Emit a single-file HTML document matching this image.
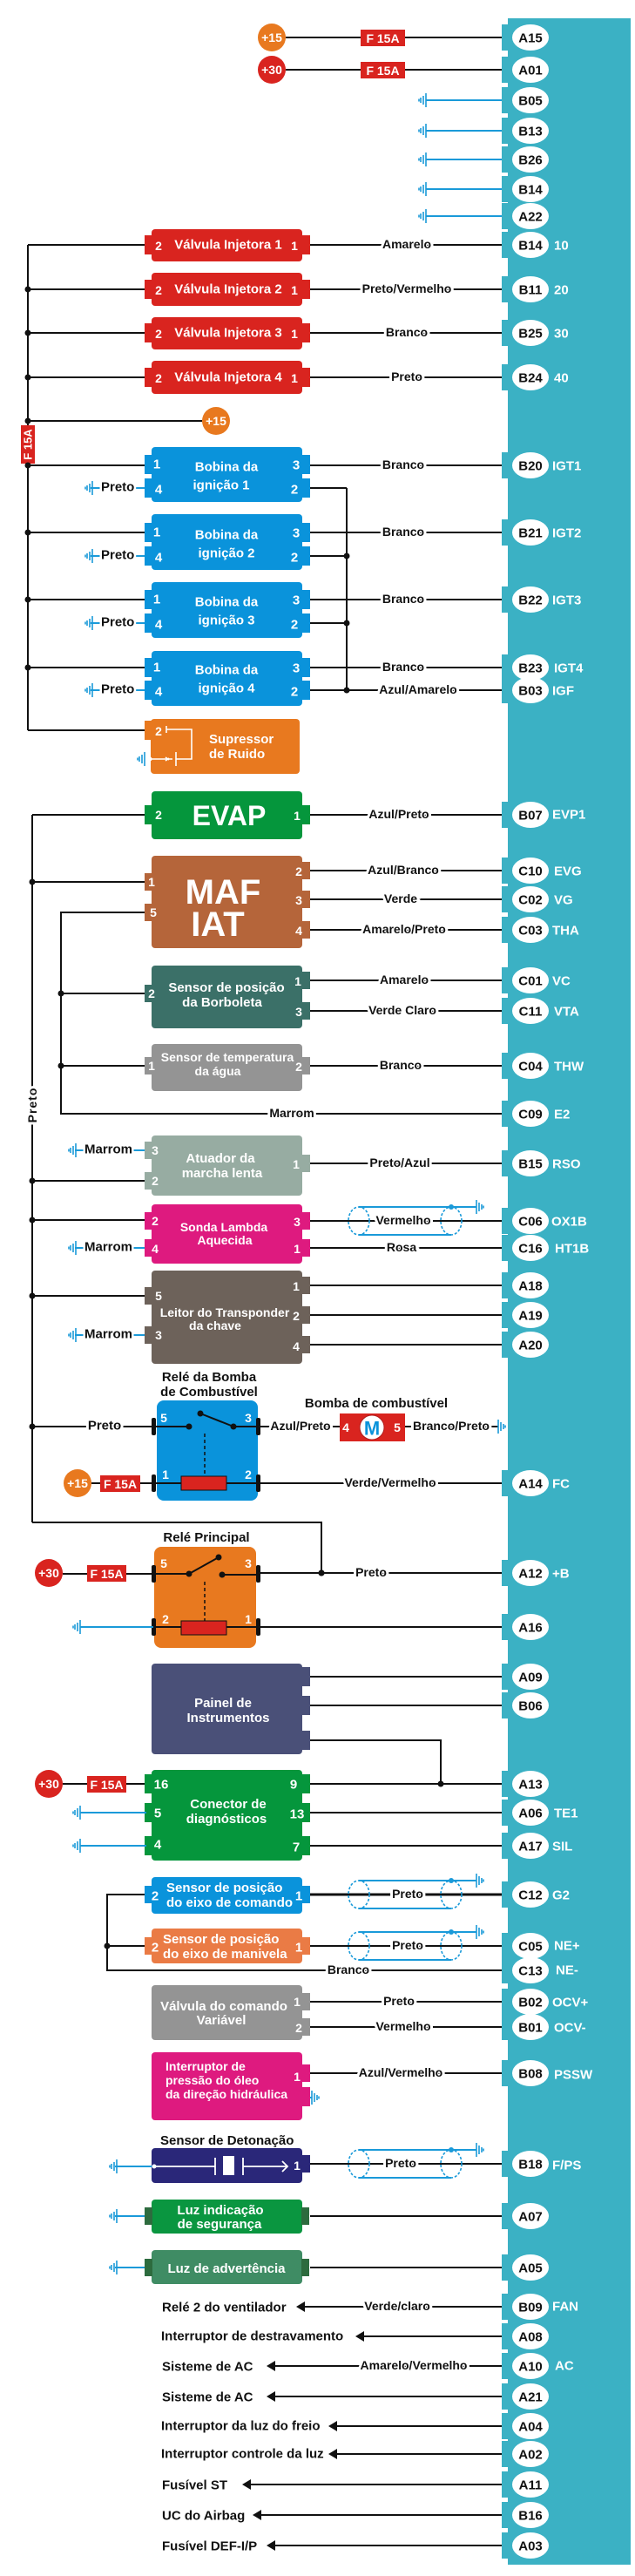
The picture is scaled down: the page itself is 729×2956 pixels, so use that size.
<!DOCTYPE html>
<html><head><meta charset="utf-8"><style>
html,body{margin:0;padding:0;background:#fff}
svg{display:block}
text{font-family:"Liberation Sans Narrow","Liberation Sans",sans-serif;font-weight:bold;font-stretch:condensed}
.w{fill:#fff}
.k{fill:#111}
.wl{fill:#111;font-size:14px;stroke:#fff;stroke-width:6px;paint-order:stroke;text-anchor:middle;dominant-baseline:central}
.pc{font-size:15px;fill:#111;text-anchor:middle;dominant-baseline:central}
.pl{font-size:15px;fill:#fff;dominant-baseline:central}
.bt{font-size:14px;fill:#fff;text-anchor:middle}
.pn{font-size:14px;fill:#fff;text-anchor:middle;dominant-baseline:central}
.ln{stroke:#111;stroke-width:2;fill:none}
.bl{stroke:#1a9ad9;stroke-width:2;fill:none}
.gl{font-size:14px;fill:#111;dominant-baseline:central}
</style></head><body>
<svg width="729" height="2956" viewBox="0 0 729 2956" xmlns="http://www.w3.org/2000/svg">
<defs>
<g id="gl"><path d="M0,-8V8M-3,-5V5M-6,-3V3M-8,-1.5V1.5" stroke="#1a9ad9" stroke-width="1.6" fill="none"/></g>
<g id="gr"><path d="M0,-8V8M3,-5V5M6,-3V3M8,-1.5V1.5" stroke="#1a9ad9" stroke-width="1.6" fill="none"/></g>
<g id="pin"><rect x="-33" y="-15" width="10" height="30" fill="#3bb1c4"/><ellipse cx="0" cy="0" rx="21" ry="15" fill="#fff"/></g>
<g id="shield">
<path d="M0,-16H135M0,16H106" stroke="#1a9ad9" stroke-width="2" fill="none"/>
<ellipse cx="0" cy="0" rx="12" ry="16" fill="none" stroke="#1a9ad9" stroke-width="1.6" stroke-dasharray="3,2"/>
<ellipse cx="106" cy="0" rx="12" ry="16" fill="none" stroke="#1a9ad9" stroke-width="1.6" stroke-dasharray="3,2"/>
<circle cx="106" cy="-16" r="3" fill="#1a9ad9"/>
<use href="#gr" x="135" y="-16"/>
</g>
<g id="arr"><path d="M0,0L10,-6V6Z" fill="#111"/></g>
</defs>

<rect x="583" y="21" width="141" height="2922" fill="#3bb1c4"/>

<!-- Top supply -->
<line x1="328" y1="43" x2="576" y2="43" class="ln"/>
<circle cx="312" cy="43" r="16" fill="#e8791f"/><text x="312" y="43" class="pn">+15</text>
<rect x="414" y="34" width="51" height="19" fill="#d9241f"/><text x="439.5" y="44" class="pn">F 15A</text>
<line x1="328" y1="80" x2="576" y2="80" class="ln"/>
<circle cx="312" cy="80" r="16" fill="#d9241f"/><text x="312" y="80" class="pn">+30</text>
<rect x="414" y="71" width="51" height="19" fill="#d9241f"/><text x="439.5" y="81" class="pn">F 15A</text>
<g class="bl">
<line x1="489" y1="115" x2="576" y2="115"/><line x1="489" y1="150" x2="576" y2="150"/><line x1="489" y1="183" x2="576" y2="183"/><line x1="489" y1="217" x2="576" y2="217"/><line x1="489" y1="248" x2="576" y2="248"/>
</g>
<use href="#gl" x="489" y="115"/><use href="#gl" x="489" y="150"/><use href="#gl" x="489" y="183"/><use href="#gl" x="489" y="217"/><use href="#gl" x="489" y="248"/>

<!-- Left power bus -->
<line x1="32" y1="281" x2="32" y2="838" class="ln"/>
<line x1="32" y1="838" x2="166" y2="838" class="ln"/>
<rect x="24" y="488" width="16" height="44" fill="#d9241f"/>
<text transform="translate(32,510) rotate(-90)" class="pn" style="font-size:13px">F 15A</text>
<line x1="32" y1="483" x2="232" y2="483" class="ln"/>
<circle cx="248" cy="483" r="16" fill="#e8791f"/><text x="248" y="483" class="pn">+15</text>
<g fill="#111"><circle cx="32" cy="332" r="3.5"/><circle cx="32" cy="382" r="3.5"/><circle cx="32" cy="433" r="3.5"/><circle cx="32" cy="483" r="3.5"/><circle cx="32" cy="534" r="3.5"/><circle cx="32" cy="611" r="3.5"/><circle cx="32" cy="688" r="3.5"/><circle cx="32" cy="766" r="3.5"/></g>

<!-- Injectors -->
<g>
<line x1="32" y1="281" x2="166" y2="281" class="ln"/><line x1="32" y1="332" x2="166" y2="332" class="ln"/><line x1="32" y1="382" x2="166" y2="382" class="ln"/><line x1="32" y1="433" x2="166" y2="433" class="ln"/>
<line x1="356" y1="281" x2="576" y2="281" class="ln"/><line x1="356" y1="332" x2="576" y2="332" class="ln"/><line x1="356" y1="382" x2="576" y2="382" class="ln"/><line x1="356" y1="433" x2="576" y2="433" class="ln"/>
</g>
<g fill="#d9241f">
<rect x="174" y="263" width="173" height="37" rx="4"/><rect x="166" y="270" width="10" height="22"/><rect x="346" y="270" width="10" height="22"/>
<rect x="174" y="313" width="173" height="38" rx="4"/><rect x="166" y="321" width="10" height="22"/><rect x="346" y="321" width="10" height="22"/>
<rect x="174" y="364" width="173" height="37" rx="4"/><rect x="166" y="371" width="10" height="22"/><rect x="346" y="371" width="10" height="22"/>
<rect x="174" y="414" width="173" height="38" rx="4"/><rect x="166" y="422" width="10" height="22"/><rect x="346" y="422" width="10" height="22"/>
</g>
<g class="pn"><text x="182" y="282">2</text><text x="338" y="282">1</text><text x="182" y="333">2</text><text x="338" y="333">1</text><text x="182" y="383">2</text><text x="338" y="383">1</text><text x="182" y="434">2</text><text x="338" y="434">1</text></g>
<g class="pn" style="font-size:15px"><text x="262" y="281">Válvula Injetora 1</text><text x="262" y="332">Válvula Injetora 2</text><text x="262" y="382">Válvula Injetora 3</text><text x="262" y="433">Válvula Injetora 4</text></g>
<text x="467" y="280" class="wl">Amarelo</text><text x="467" y="331" class="wl">Preto/Vermelho</text><text x="467" y="381" class="wl">Branco</text><text x="467" y="432" class="wl">Preto</text>

<!-- Ignition coils -->
<line x1="398" y1="560" x2="398" y2="792" class="ln"/>
<g class="ln">
<line x1="32" y1="534" x2="166" y2="534"/><line x1="32" y1="611" x2="166" y2="611"/><line x1="32" y1="688" x2="166" y2="688"/><line x1="32" y1="766" x2="166" y2="766"/>
<line x1="356" y1="534" x2="576" y2="534"/><line x1="356" y1="611" x2="576" y2="611"/><line x1="356" y1="688" x2="576" y2="688"/><line x1="356" y1="766" x2="576" y2="766"/>
<polyline points="356,560 398,560"/><line x1="356" y1="638" x2="398" y2="638"/><line x1="356" y1="715" x2="398" y2="715"/><line x1="356" y1="792" x2="576" y2="792"/>
</g>
<g fill="#111"><circle cx="398" cy="638" r="3.5"/><circle cx="398" cy="715" r="3.5"/><circle cx="398" cy="792" r="3.5"/></g>
<g fill="#0a93db">
<rect x="174" y="513" width="173" height="63" rx="4"/><rect x="166" y="522" width="10" height="22"/><rect x="166" y="549" width="10" height="22"/><rect x="346" y="522" width="10" height="22"/><rect x="346" y="549" width="10" height="22"/>
<rect x="174" y="590" width="173" height="64" rx="4"/><rect x="166" y="600" width="10" height="22"/><rect x="166" y="627" width="10" height="22"/><rect x="346" y="600" width="10" height="22"/><rect x="346" y="627" width="10" height="22"/>
<rect x="174" y="668" width="173" height="64" rx="4"/><rect x="166" y="677" width="10" height="22"/><rect x="166" y="704" width="10" height="22"/><rect x="346" y="677" width="10" height="22"/><rect x="346" y="704" width="10" height="22"/>
<rect x="174" y="747" width="173" height="63" rx="4"/><rect x="166" y="755" width="10" height="22"/><rect x="166" y="781" width="10" height="22"/><rect x="346" y="755" width="10" height="22"/><rect x="346" y="781" width="10" height="22"/>
</g>
<g class="pn" style="font-size:15px">
<text x="180" y="533">1</text><text x="182" y="562">4</text><text x="340" y="534">3</text><text x="338" y="562">2</text>
<text x="180" y="611">1</text><text x="182" y="640">4</text><text x="340" y="612">3</text><text x="338" y="640">2</text>
<text x="180" y="688">1</text><text x="182" y="717">4</text><text x="340" y="689">3</text><text x="338" y="717">2</text>
<text x="180" y="766">1</text><text x="182" y="794">4</text><text x="340" y="767">3</text><text x="338" y="794">2</text>
<text x="260" y="536">Bobina da</text><text x="254" y="557">ignição 1</text>
<text x="260" y="614">Bobina da</text><text x="260" y="635">ignição 2</text>
<text x="260" y="691">Bobina da</text><text x="260" y="712">ignição 3</text>
<text x="260" y="769">Bobina da</text><text x="260" y="790">ignição 4</text>
</g>
<g class="bl"><line x1="104" y1="560" x2="166" y2="560"/><line x1="104" y1="638" x2="166" y2="638"/><line x1="104" y1="715" x2="166" y2="715"/><line x1="104" y1="792" x2="166" y2="792"/></g>
<use href="#gl" x="106" y="560"/><use href="#gl" x="106" y="638"/><use href="#gl" x="106" y="715"/><use href="#gl" x="106" y="792"/>
<g style="font-size:15px;fill:#111;stroke:#fff;stroke-width:5px;paint-order:stroke;dominant-baseline:central"><text x="116" y="559">Preto</text><text x="116" y="637">Preto</text><text x="116" y="714">Preto</text><text x="116" y="791">Preto</text></g>
<text x="463" y="533" class="wl">Branco</text><text x="463" y="610" class="wl">Branco</text><text x="463" y="687" class="wl">Branco</text><text x="463" y="765" class="wl">Branco</text><text x="480" y="791" class="wl">Azul/Amarelo</text>

<!-- Supressor -->
<rect x="173" y="825" width="171" height="63" rx="4" fill="#e8791f"/><rect x="166" y="827" width="10" height="22" fill="#e8791f"/>
<text x="182" y="839" class="pn">2</text>
<path d="M191,837H220V871H202M202,863V879M170,871H198" stroke="#fff" stroke-width="1.6" fill="none"/>
<path d="M191,833V841M194,872l-4,-3M194,870l-4,3" stroke="#fff" stroke-width="1.6" fill="none"/>
<circle cx="172" cy="871" r="2.5" fill="#fff"/><use href="#gl" x="166" y="871"/>
<text x="240" y="853" style="font-size:15px;fill:#fff">Supressor</text><text x="240" y="870" style="font-size:15px;fill:#fff">de Ruido</text>

<!-- Preto bus -->
<line x1="37" y1="935" x2="37" y2="1747" class="ln"/>
<polyline points="37,1747 369,1747 369,1805" class="ln"/>
<text transform="translate(37,1268) rotate(-90)" style="font-size:14px;fill:#111;stroke:#fff;stroke-width:6px;paint-order:stroke;text-anchor:middle;dominant-baseline:central;letter-spacing:1px">Preto</text>
<g fill="#111"><circle cx="37" cy="1012" r="3.5"/><circle cx="37" cy="1355" r="3.5"/><circle cx="37" cy="1400" r="3.5"/><circle cx="37" cy="1487" r="3.5"/><circle cx="37" cy="1637" r="3.5"/><circle cx="369" cy="1805" r="3.5"/></g>

<!-- EVAP -->
<line x1="37" y1="935" x2="166" y2="935" class="ln"/><line x1="356" y1="935" x2="576" y2="935" class="ln"/>
<rect x="174" y="908" width="173" height="55" rx="4" fill="#05963c"/><rect x="166" y="924" width="10" height="22" fill="#05963c"/><rect x="346" y="924" width="10" height="22" fill="#05963c"/>
<text x="182" y="935" class="pn">2</text><text x="341" y="936" class="pn">1</text>
<text x="263" y="947" style="font-size:32px;fill:#fff;text-anchor:middle">EVAP</text>
<text x="458" y="934" class="wl">Azul/Preto</text>

<!-- MAF -->
<polyline points="166,1047 70,1047 70,1278 576,1278" class="ln"/>
<line x1="37" y1="1012" x2="166" y2="1012" class="ln"/>
<line x1="356" y1="999" x2="576" y2="999" class="ln"/><line x1="356" y1="1032" x2="576" y2="1032" class="ln"/><line x1="356" y1="1067" x2="576" y2="1067" class="ln"/>
<g fill="#b5653a"><rect x="174" y="982" width="173" height="106" rx="4"/><rect x="166" y="1002" width="10" height="20"/><rect x="166" y="1037" width="10" height="20"/><rect x="346" y="989" width="10" height="20"/><rect x="346" y="1022" width="10" height="20"/><rect x="346" y="1057" width="10" height="20"/></g>
<g class="pn"><text x="174" y="1012">1</text><text x="176" y="1047">5</text><text x="343" y="1000">2</text><text x="343" y="1033">3</text><text x="343" y="1068">4</text></g>
<text x="256" y="1037" style="font-size:40px;fill:#fff;text-anchor:middle">MAF</text>
<text x="250" y="1074" style="font-size:40px;fill:#fff;text-anchor:middle">IAT</text>
<text x="463" y="998" class="wl">Azul/Branco</text><text x="460" y="1031" class="wl">Verde</text><text x="464" y="1066" class="wl">Amarelo/Preto</text>
<g fill="#111"><circle cx="70" cy="1140" r="3.5"/><circle cx="70" cy="1223" r="3.5"/></g>
<text x="335" y="1277" class="wl">Marrom</text>

<!-- TPS -->
<line x1="70" y1="1140" x2="166" y2="1140" class="ln"/>
<line x1="356" y1="1125" x2="576" y2="1125" class="ln"/><line x1="356" y1="1160" x2="576" y2="1160" class="ln"/>
<g fill="#3b7068"><rect x="174" y="1108" width="173" height="72" rx="4"/><rect x="166" y="1130" width="10" height="20"/><rect x="346" y="1115" width="10" height="20"/><rect x="346" y="1150" width="10" height="20"/></g>
<g class="pn"><text x="174" y="1140">2</text><text x="342" y="1126">1</text><text x="343" y="1161">3</text></g>
<text x="260" y="1138" class="bt" style="font-size:15px">Sensor de posição</text><text x="255" y="1155" class="bt" style="font-size:15px">da Borboleta</text>
<text x="464" y="1124" class="wl">Amarelo</text><text x="462" y="1159" class="wl">Verde Claro</text>

<!-- Water temp -->
<line x1="70" y1="1223" x2="166" y2="1223" class="ln"/><line x1="356" y1="1223" x2="576" y2="1223" class="ln"/>
<g fill="#949494"><rect x="174" y="1198" width="173" height="54" rx="4"/><rect x="166" y="1213" width="10" height="20"/><rect x="346" y="1213" width="10" height="20"/></g>
<g class="pn"><text x="174" y="1223">1</text><text x="343" y="1224">2</text></g>
<text x="261" y="1218" class="bt">Sensor de temperatura</text><text x="250" y="1234" class="bt">da água</text>
<text x="460" y="1222" class="wl">Branco</text>

<!-- Idle -->
<line x1="37" y1="1355" x2="166" y2="1355" class="ln"/><line x1="356" y1="1335" x2="576" y2="1335" class="ln"/>
<g fill="#97aca2"><rect x="174" y="1303" width="173" height="69" rx="4"/><rect x="166" y="1310" width="10" height="20"/><rect x="166" y="1345" width="10" height="20"/><rect x="346" y="1325" width="10" height="20"/></g>
<g class="pn"><text x="178" y="1320">3</text><text x="178" y="1355">2</text><text x="340" y="1336">1</text></g>
<text x="253" y="1334" class="bt" style="font-size:15px">Atuador da</text><text x="255" y="1351" class="bt" style="font-size:15px">marcha lenta</text>
<text x="459" y="1334" class="wl">Preto/Azul</text>
<line x1="86" y1="1320" x2="166" y2="1320" class="bl"/><use href="#gl" x="87" y="1320"/>
<text x="97" y="1319" class="gl" style="font-size:15px;stroke:#fff;stroke-width:5px;paint-order:stroke">Marrom</text>

<!-- Lambda -->
<line x1="37" y1="1400" x2="166" y2="1400" class="ln"/>
<line x1="356" y1="1401" x2="576" y2="1401" class="ln"/><line x1="356" y1="1432" x2="576" y2="1432" class="ln"/>
<use href="#shield" x="412" y="1401"/>
<g fill="#de1a7f"><rect x="174" y="1382" width="173" height="68" rx="4"/><rect x="166" y="1391" width="10" height="20"/><rect x="166" y="1422" width="10" height="20"/><rect x="346" y="1391" width="10" height="20"/><rect x="346" y="1422" width="10" height="20"/></g>
<g class="pn"><text x="178" y="1401">2</text><text x="178" y="1433">4</text><text x="341" y="1402">3</text><text x="341" y="1433">1</text></g>
<text x="257" y="1413" class="bt">Sonda Lambda</text><text x="258" y="1428" class="bt">Aquecida</text>
<text x="463" y="1400" class="wl">Vermelho</text><text x="461" y="1431" class="wl">Rosa</text>
<line x1="86" y1="1432" x2="166" y2="1432" class="bl"/><use href="#gl" x="87" y="1432"/>
<text x="97" y="1431" class="gl" style="font-size:15px;stroke:#fff;stroke-width:5px;paint-order:stroke">Marrom</text>

<!-- Transponder -->
<line x1="37" y1="1487" x2="166" y2="1487" class="ln"/>
<line x1="356" y1="1475" x2="576" y2="1475" class="ln"/><line x1="356" y1="1509" x2="576" y2="1509" class="ln"/><line x1="356" y1="1543" x2="576" y2="1543" class="ln"/>
<g fill="#6d625a"><rect x="174" y="1458" width="173" height="107" rx="4"/><rect x="166" y="1477" width="10" height="20"/><rect x="166" y="1522" width="10" height="20"/><rect x="346" y="1465" width="10" height="20"/><rect x="346" y="1499" width="10" height="20"/><rect x="346" y="1533" width="10" height="20"/></g>
<g class="pn"><text x="182" y="1487">5</text><text x="182" y="1532">3</text><text x="340" y="1476">1</text><text x="340" y="1510">2</text><text x="340" y="1545">4</text></g>
<text x="258" y="1511" class="bt">Leitor do Transponder</text><text x="247" y="1526" class="bt">da chave</text>
<line x1="86" y1="1532" x2="166" y2="1532" class="bl"/><use href="#gl" x="87" y="1532"/>
<text x="97" y="1531" class="gl" style="font-size:15px;stroke:#fff;stroke-width:5px;paint-order:stroke">Marrom</text>

<!-- Pump relay -->
<text x="240" y="1585" style="font-size:15px;fill:#111;text-anchor:middle">Relé da Bomba</text>
<text x="240" y="1602" style="font-size:15px;fill:#111;text-anchor:middle">de Combustível</text>
<line x1="37" y1="1637" x2="176" y2="1637" class="ln"/>
<text x="120" y="1636" class="wl" style="font-size:15px">Preto</text>
<rect x="180" y="1607" width="116" height="115" rx="8" fill="#0a93db"/>
<g class="pn"><text x="188" y="1627">5</text><text x="285" y="1627">3</text><text x="190" y="1692">1</text><text x="285" y="1692">2</text></g>
<path d="M176,1637H217M230,1622L268,1637M268,1637H296M176,1702H296" class="ln"/>
<g fill="#111"><circle cx="217" cy="1637" r="3.5"/><circle cx="230" cy="1622" r="3.5"/><circle cx="268" cy="1637" r="3.5"/></g>
<line x1="235" y1="1645" x2="235" y2="1692" stroke="#111" stroke-width="1.5" stroke-dasharray="4,3"/>
<rect x="208" y="1694" width="52" height="16" fill="#d9241f" stroke="#111" stroke-width="1"/>
<g fill="#111"><rect x="174" y="1627" width="5" height="20" rx="2"/><rect x="294" y="1627" width="5" height="20" rx="2"/><rect x="174" y="1692" width="5" height="20" rx="2"/><rect x="294" y="1692" width="5" height="20" rx="2"/></g>
<line x1="105" y1="1702" x2="176" y2="1702" class="ln"/>
<circle cx="89" cy="1702" r="16" fill="#e8791f"/><text x="89" y="1702" class="pn">+15</text>
<rect x="115" y="1693" width="46" height="19" fill="#d9241f"/><text x="138" y="1703" class="pn">F 15A</text>
<line x1="296" y1="1637" x2="390" y2="1637" class="ln"/><line x1="465" y1="1637" x2="572" y2="1637" class="ln"/>
<text x="345" y="1636" class="wl">Azul/Preto</text>
<text x="432" y="1615" style="font-size:15px;fill:#111;text-anchor:middle">Bomba de combustível</text>
<rect x="390" y="1622" width="75" height="32" fill="#d9241f"/>
<circle cx="427" cy="1638" r="14" fill="#fff" stroke="#b01c1c" stroke-width="1"/>
<text x="427" y="1639" style="font-size:22px;fill:#0a93db;text-anchor:middle;dominant-baseline:central">M</text>
<text x="397" y="1638" class="pn">4</text><text x="456" y="1638" class="pn">5</text>
<text x="518" y="1636" class="wl">Branco/Preto</text>
<use href="#gr" x="572" y="1637"/>
<line x1="296" y1="1702" x2="576" y2="1702" class="ln"/>
<text x="448" y="1701" class="wl">Verde/Vermelho</text>

<!-- Main relay -->
<text x="237" y="1769" style="font-size:15px;fill:#111;text-anchor:middle">Relé Principal</text>
<rect x="177" y="1775" width="117" height="116" rx="8" fill="#e8791f"/>
<g class="pn"><text x="188" y="1794">5</text><text x="285" y="1794">3</text><text x="190" y="1858">2</text><text x="285" y="1858">1</text></g>
<path d="M176,1806H217L251,1787M255,1807H296M176,1867H296M296,1805H576" class="ln"/>
<g fill="#111"><circle cx="217" cy="1806" r="3.5"/><circle cx="251" cy="1787" r="3.5"/><circle cx="255" cy="1807" r="3.5"/><circle cx="369" cy="1805" r="3.5"/></g>
<line x1="235" y1="1815" x2="235" y2="1860" stroke="#111" stroke-width="1.5" stroke-dasharray="4,3"/>
<rect x="208" y="1860" width="52" height="16" fill="#d9241f" stroke="#111" stroke-width="1"/>
<g fill="#111"><rect x="174" y="1796" width="5" height="20" rx="2"/><rect x="294" y="1796" width="5" height="20" rx="2"/><rect x="174" y="1857" width="5" height="20" rx="2"/><rect x="294" y="1857" width="5" height="20" rx="2"/></g>
<line x1="72" y1="1806" x2="176" y2="1806" class="ln"/>
<circle cx="56" cy="1805" r="16" fill="#d9241f"/><text x="56" y="1805" class="pn">+30</text>
<rect x="100" y="1796" width="45" height="19" fill="#d9241f"/><text x="122.5" y="1806" class="pn">F 15A</text>
<text x="426" y="1804" class="wl">Preto</text>
<line x1="92" y1="1867" x2="176" y2="1867" class="bl"/><use href="#gl" x="92" y="1867"/>
<line x1="296" y1="1867" x2="576" y2="1867" class="ln"/>

<!-- Panel -->
<g class="ln"><line x1="356" y1="1924" x2="576" y2="1924"/><line x1="356" y1="1957" x2="576" y2="1957"/><polyline points="356,1997 506,1997 506,2047"/></g>
<g fill="#4a5078"><rect x="174" y="1909" width="173" height="104" rx="4"/><rect x="346" y="1913" width="10" height="22"/><rect x="346" y="1946" width="10" height="22"/><rect x="346" y="1986" width="10" height="22"/></g>
<text x="256" y="1959" class="bt" style="font-size:15px">Painel de</text><text x="262" y="1976" class="bt" style="font-size:15px">Instrumentos</text>

<!-- Diag -->
<g class="ln"><line x1="72" y1="2047" x2="166" y2="2047"/><line x1="356" y1="2047" x2="576" y2="2047"/><line x1="356" y1="2080" x2="576" y2="2080"/><line x1="356" y1="2118" x2="576" y2="2118"/></g>
<circle cx="506" cy="2047" r="3.5" fill="#111"/>
<circle cx="56" cy="2047" r="16" fill="#d9241f"/><text x="56" y="2047" class="pn">+30</text>
<rect x="100" y="2038" width="45" height="19" fill="#d9241f"/><text x="122.5" y="2048" class="pn">F 15A</text>
<g fill="#05963c"><rect x="174" y="2031" width="173" height="104" rx="4"/><rect x="166" y="2036" width="10" height="22"/><rect x="166" y="2069" width="10" height="22"/><rect x="166" y="2107" width="10" height="22"/><rect x="346" y="2036" width="10" height="22"/><rect x="346" y="2069" width="10" height="22"/><rect x="346" y="2107" width="10" height="22"/></g>
<g class="pn" style="font-size:15px"><text x="185" y="2048">16</text><text x="181" y="2081">5</text><text x="181" y="2117">4</text><text x="337" y="2048">9</text><text x="341" y="2082">13</text><text x="340" y="2120">7</text></g>
<text x="262" y="2075" class="bt" style="font-size:15px">Conector de</text><text x="260" y="2092" class="bt" style="font-size:15px">diagnósticos</text>
<line x1="92" y1="2080" x2="168" y2="2080" class="bl"/><use href="#gl" x="92" y="2080"/>
<line x1="92" y1="2118" x2="168" y2="2118" class="bl"/><use href="#gl" x="92" y="2118"/>

<!-- Cam / Crank -->
<polyline points="166,2174 123,2174 123,2261 576,2261" class="ln"/>
<line x1="123" y1="2233" x2="166" y2="2233" class="ln"/><circle cx="123" cy="2233" r="3.5" fill="#111"/>
<line x1="356" y1="2174" x2="576" y2="2174" class="ln" style="stroke-width:3"/><line x1="356" y1="2233" x2="576" y2="2233" class="ln"/>
<use href="#shield" x="412" y="2174"/><use href="#shield" x="412" y="2233"/>
<g fill="#0a93db"><rect x="174" y="2154" width="173" height="42" rx="4"/><rect x="166" y="2164" width="10" height="20"/><rect x="346" y="2164" width="10" height="20"/></g>
<g fill="#ea7b45"><rect x="174" y="2213" width="173" height="40" rx="4"/><rect x="166" y="2223" width="10" height="20"/><rect x="346" y="2223" width="10" height="20"/></g>
<g class="pn" style="font-size:15px"><text x="178" y="2176">2</text><text x="343" y="2176">1</text><text x="178" y="2235">2</text><text x="343" y="2235">1</text></g>
<text x="191" y="2171" style="font-size:15px;fill:#fff">Sensor de posição</text><text x="191" y="2188" style="font-size:15px;fill:#fff">do eixo de comando</text>
<text x="187" y="2230" style="font-size:15px;fill:#fff">Sensor de posição</text><text x="187" y="2247" style="font-size:15px;fill:#fff">do eixo de manivela</text>
<text x="468" y="2173" class="wl">Preto</text><text x="468" y="2232" class="wl">Preto</text><text x="400" y="2260" class="wl">Branco</text>

<!-- VVT -->
<line x1="356" y1="2297" x2="576" y2="2297" class="ln"/><line x1="356" y1="2326" x2="576" y2="2326" class="ln"/>
<g fill="#949494"><rect x="174" y="2278" width="173" height="63" rx="4"/><rect x="346" y="2287" width="10" height="20"/><rect x="346" y="2316" width="10" height="20"/></g>
<g class="pn"><text x="341" y="2297">1</text><text x="343" y="2327">2</text></g>
<text x="257" y="2307" class="bt" style="font-size:15px">Válvula do comando</text><text x="254" y="2323" class="bt" style="font-size:15px">Variável</text>
<text x="458" y="2296" class="wl">Preto</text><text x="463" y="2325" class="wl">Vermelho</text>

<!-- PS switch -->
<line x1="356" y1="2379" x2="576" y2="2379" class="ln"/>
<g fill="#de1a7f"><rect x="174" y="2355" width="173" height="78" rx="4"/><rect x="346" y="2369" width="10" height="20"/><rect x="346" y="2395" width="10" height="22"/></g>
<text x="341" y="2383" class="pn">1</text>
<text x="190" y="2376" style="font-size:14px;fill:#fff">Interruptor de</text><text x="190" y="2392" style="font-size:14px;fill:#fff">pressão do óleo</text><text x="190" y="2408" style="font-size:14px;fill:#fff">da direção hidráulica</text>
<line x1="356" y1="2407" x2="358" y2="2407" class="bl"/><use href="#gr" x="358" y="2407"/>
<text x="460" y="2378" class="wl">Azul/Vermelho</text>

<!-- Knock -->
<text x="184" y="2461" style="font-size:15px;fill:#111">Sensor de Detonação</text>
<line x1="356" y1="2483" x2="576" y2="2483" class="ln"/>
<use href="#shield" x="412" y="2483"/>
<g fill="#2a2779"><rect x="174" y="2465" width="173" height="40" rx="4"/><rect x="346" y="2473" width="10" height="20"/></g>
<path d="M177,2486H247M247,2476V2496M279,2476V2496M279,2486H330M324,2480L330,2486L324,2492" stroke="#fff" stroke-width="1.8" fill="none"/>
<rect x="256" y="2474" width="13" height="22" fill="#fff"/>
<text x="341" y="2485" class="pn">1</text>
<line x1="132" y1="2486" x2="177" y2="2486" class="bl"/><use href="#gl" x="134" y="2486"/><circle cx="177" cy="2486" r="2.5" fill="#fff"/>
<text x="460" y="2482" class="wl">Preto</text>

<!-- Luz ind / adv -->
<line x1="356" y1="2543" x2="576" y2="2543" class="ln"/><line x1="356" y1="2602" x2="576" y2="2602" class="ln"/>
<line x1="132" y1="2543" x2="168" y2="2543" class="bl"/><use href="#gl" x="134" y="2543"/>
<line x1="132" y1="2602" x2="168" y2="2602" class="bl"/><use href="#gl" x="134" y="2602"/>
<g fill="#0a9640"><rect x="174" y="2524" width="173" height="39" rx="4"/></g><g fill="#2d6b3e"><rect x="166" y="2533" width="9" height="20"/><rect x="346" y="2533" width="9" height="20"/></g>
<text x="253" y="2541" class="bt" style="font-size:15px">Luz indicação</text><text x="252" y="2557" class="bt" style="font-size:15px">de segurança</text>
<g fill="#3f8c64"><rect x="174" y="2582" width="173" height="39" rx="4"/></g><g fill="#2d6b3e"><rect x="166" y="2592" width="9" height="20"/><rect x="346" y="2592" width="9" height="20"/></g>
<text x="260" y="2608" class="bt" style="font-size:15px">Luz de advertência</text>

<!-- Bottom outputs -->
<g class="ln">
<line x1="342" y1="2647" x2="576" y2="2647"/><line x1="410" y1="2681" x2="576" y2="2681"/><line x1="308" y1="2715" x2="576" y2="2715"/><line x1="308" y1="2750" x2="576" y2="2750"/><line x1="379" y1="2784" x2="576" y2="2784"/><line x1="379" y1="2816" x2="576" y2="2816"/><line x1="280" y1="2851" x2="576" y2="2851"/><line x1="292" y1="2886" x2="576" y2="2886"/><line x1="308" y1="2921" x2="576" y2="2921"/>
</g>
<use href="#arr" x="340" y="2647"/><use href="#arr" x="408" y="2681"/><use href="#arr" x="306" y="2715"/><use href="#arr" x="306" y="2750"/><use href="#arr" x="377" y="2784"/><use href="#arr" x="377" y="2816"/><use href="#arr" x="278" y="2851"/><use href="#arr" x="290" y="2886"/><use href="#arr" x="306" y="2921"/>
<g class="gl" style="font-size:15px">
<text x="186" y="2648">Relé 2 do ventilador</text><text x="185" y="2681">Interruptor de destravamento</text><text x="186" y="2716">Sisteme de AC</text><text x="186" y="2751">Sisteme de AC</text><text x="185" y="2784">Interruptor da luz do freio</text><text x="185" y="2816">Interruptor controle da luz</text><text x="186" y="2852">Fusível ST</text><text x="186" y="2887">UC do Airbag</text><text x="186" y="2922">Fusível DEF-I/P</text>
</g>
<text x="456" y="2646" class="wl">Verde/claro</text><text x="475" y="2714" class="wl">Amarelo/Vermelho</text>

<!-- Pins -->
<g>
<use href="#pin" x="609" y="43"/><use href="#pin" x="609" y="80"/><use href="#pin" x="609" y="115"/><use href="#pin" x="609" y="150"/><use href="#pin" x="609" y="183"/><use href="#pin" x="609" y="217"/><use href="#pin" x="609" y="248"/>
<use href="#pin" x="609" y="281"/><use href="#pin" x="609" y="332"/><use href="#pin" x="609" y="382"/><use href="#pin" x="609" y="433"/>
<use href="#pin" x="609" y="534"/><use href="#pin" x="609" y="611"/><use href="#pin" x="609" y="688"/><use href="#pin" x="609" y="766"/><use href="#pin" x="609" y="792"/>
<use href="#pin" x="609" y="935"/><use href="#pin" x="609" y="999"/><use href="#pin" x="609" y="1032"/><use href="#pin" x="609" y="1067"/><use href="#pin" x="609" y="1125"/><use href="#pin" x="609" y="1160"/><use href="#pin" x="609" y="1223"/><use href="#pin" x="609" y="1278"/><use href="#pin" x="609" y="1335"/>
<use href="#pin" x="609" y="1401"/><use href="#pin" x="609" y="1432"/><use href="#pin" x="609" y="1475"/><use href="#pin" x="609" y="1509"/><use href="#pin" x="609" y="1543"/><use href="#pin" x="609" y="1702"/><use href="#pin" x="609" y="1805"/><use href="#pin" x="609" y="1867"/>
<use href="#pin" x="609" y="1924"/><use href="#pin" x="609" y="1957"/><use href="#pin" x="609" y="2047"/><use href="#pin" x="609" y="2080"/><use href="#pin" x="609" y="2118"/><use href="#pin" x="609" y="2174"/><use href="#pin" x="609" y="2233"/><use href="#pin" x="609" y="2261"/><use href="#pin" x="609" y="2297"/><use href="#pin" x="609" y="2326"/>
<use href="#pin" x="609" y="2379"/><use href="#pin" x="609" y="2483"/><use href="#pin" x="609" y="2543"/><use href="#pin" x="609" y="2602"/><use href="#pin" x="609" y="2647"/><use href="#pin" x="609" y="2681"/><use href="#pin" x="609" y="2715"/><use href="#pin" x="609" y="2750"/><use href="#pin" x="609" y="2784"/><use href="#pin" x="609" y="2816"/><use href="#pin" x="609" y="2851"/><use href="#pin" x="609" y="2886"/><use href="#pin" x="609" y="2921"/>
</g>
<g class="pc">
<text x="609" y="44">A15</text><text x="609" y="81">A01</text><text x="609" y="116">B05</text><text x="609" y="151">B13</text><text x="609" y="184">B26</text><text x="609" y="218">B14</text><text x="609" y="249">A22</text>
<text x="609" y="282">B14</text><text x="609" y="333">B11</text><text x="609" y="383">B25</text><text x="609" y="434">B24</text>
<text x="609" y="535">B20</text><text x="609" y="612">B21</text><text x="609" y="689">B22</text><text x="609" y="767">B23</text><text x="609" y="793">B03</text>
<text x="609" y="936">B07</text><text x="609" y="1000">C10</text><text x="609" y="1033">C02</text><text x="609" y="1068">C03</text><text x="609" y="1126">C01</text><text x="609" y="1161">C11</text><text x="609" y="1224">C04</text><text x="609" y="1279">C09</text><text x="609" y="1336">B15</text>
<text x="609" y="1402">C06</text><text x="609" y="1433">C16</text><text x="609" y="1476">A18</text><text x="609" y="1510">A19</text><text x="609" y="1544">A20</text><text x="609" y="1703">A14</text><text x="609" y="1806">A12</text><text x="609" y="1868">A16</text>
<text x="609" y="1925">A09</text><text x="609" y="1958">B06</text><text x="609" y="2048">A13</text><text x="609" y="2081">A06</text><text x="609" y="2119">A17</text><text x="609" y="2175">C12</text><text x="609" y="2234">C05</text><text x="609" y="2262">C13</text><text x="609" y="2298">B02</text><text x="609" y="2327">B01</text>
<text x="609" y="2380">B08</text><text x="609" y="2484">B18</text><text x="609" y="2544">A07</text><text x="609" y="2603">A05</text><text x="609" y="2648">B09</text><text x="609" y="2682">A08</text><text x="609" y="2716">A10</text><text x="609" y="2751">A21</text><text x="609" y="2785">A04</text><text x="609" y="2817">A02</text><text x="609" y="2852">A11</text><text x="609" y="2887">B16</text><text x="609" y="2922">A03</text>
</g>
<g class="pl">
<text x="636" y="282">10</text><text x="636" y="333">20</text><text x="636" y="383">30</text><text x="636" y="434">40</text>
<text x="634" y="535">IGT1</text><text x="634" y="612">IGT2</text><text x="634" y="689">IGT3</text><text x="636" y="767">IGT4</text><text x="634" y="793">IGF</text>
<text x="634" y="935">EVP1</text><text x="636" y="1000">EVG</text><text x="636" y="1033">VG</text><text x="634" y="1068">THA</text><text x="634" y="1126">VC</text><text x="636" y="1161">VTA</text><text x="636" y="1224">THW</text><text x="636" y="1279">E2</text><text x="634" y="1336">RSO</text>
<text x="633" y="1402">OX1B</text><text x="637" y="1433">HT1B</text><text x="634" y="1703">FC</text><text x="634" y="1806">+B</text>
<text x="636" y="2081">TE1</text><text x="634" y="2119">SIL</text><text x="634" y="2175">G2</text><text x="636" y="2233">NE+</text><text x="638" y="2261">NE-</text><text x="634" y="2298">OCV+</text><text x="636" y="2327">OCV-</text>
<text x="636" y="2381">PSSW</text><text x="634" y="2485">F/PS</text><text x="634" y="2647">FAN</text><text x="637" y="2715">AC</text>
</g>
</svg>
</body></html>
